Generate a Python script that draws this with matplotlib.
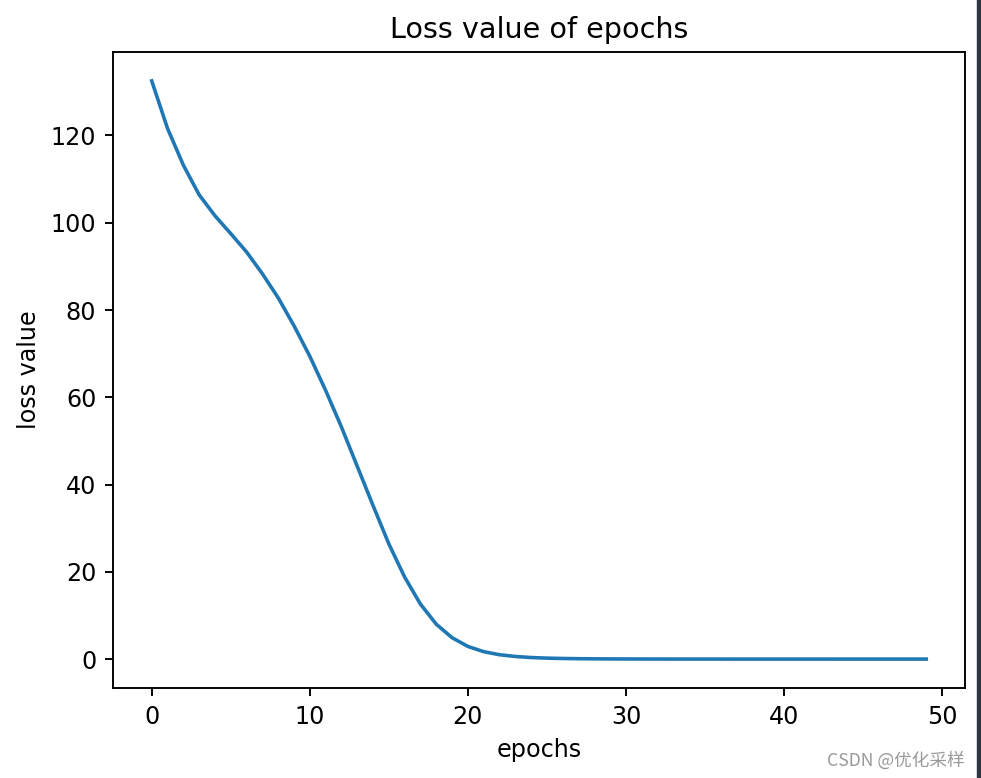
import matplotlib
matplotlib.use('Agg')
import matplotlib.pyplot as plt
from matplotlib.patches import Rectangle

# loss per epoch
epochs = list(range(50))
loss = [132.5, 121.6, 113.2, 106.4, 101.6, 97.5, 93.3, 88.3, 82.8, 76.4,
        69.4, 61.6, 53.2, 44.2, 35.2, 26.4, 18.8, 12.6, 8.0, 4.9,
        2.9, 1.7, 1.0, 0.6, 0.36, 0.22, 0.14, 0.09, 0.06, 0.04,
        0.03, 0.02, 0.015, 0.01, 0.008, 0.006, 0.005, 0.004, 0.003, 0.003,
        0.002, 0.002, 0.002, 0.001, 0.001, 0.001, 0.001, 0.001, 0.001, 0.001]

dpi = 172
fig = plt.figure(figsize=(981 / dpi, 778 / dpi), dpi=dpi)
ax = fig.add_axes([113 / 981, 1 - 688 / 778, 852 / 981, 636 / 778])

ax.plot(epochs, loss)
ax.set_title('Loss value of epochs')
ax.set_xlabel('epochs')
ax.set_ylabel('loss value')

# screenshot edge and watermark
fig.patches.append(Rectangle((978 / 981, 0), 3 / 981, 1, transform=fig.transFigure,
                             color='#2e3440', zorder=10))
fig.text(965 / 981, 1 - 760 / 778, 'CSDN @优化采样', ha='right', va='center',
         fontsize=7.4, color='#999999', family=['Noto Sans CJK SC', 'DejaVu Sans'])

fig.savefig('out.png', dpi=dpi)
